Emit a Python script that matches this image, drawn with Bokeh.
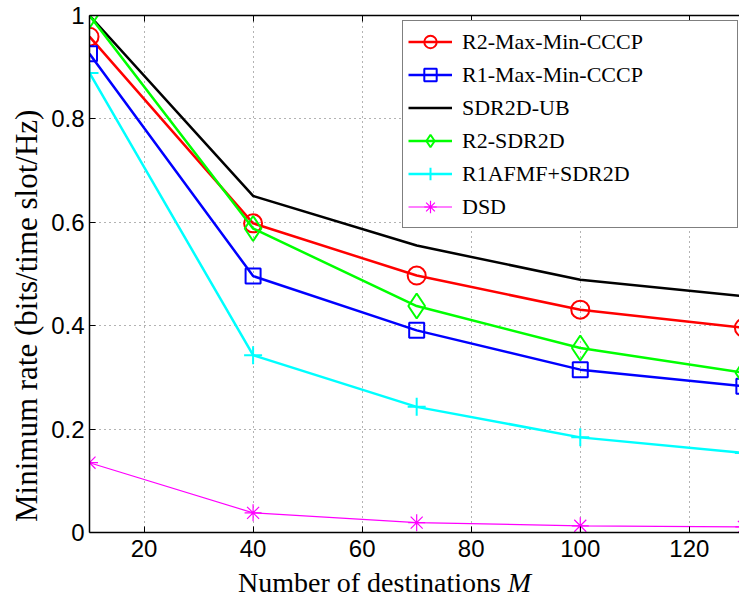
from bokeh.plotting import figure
from bokeh.models import (Range1d, LinearAxis, Legend, LegendItem, Div,
                          CustomLabelingPolicy)
from bokeh.layouts import column, row
from bokeh.embed import file_html
from bokeh.resources import INLINE

# ---------------- data ----------------
m_values = [10, 40, 70, 100, 130]
r2_max_min_cccp = [0.959, 0.598, 0.497, 0.431, 0.396]
r1_max_min_cccp = [0.926, 0.496, 0.391, 0.315, 0.283]
sdr2d_ub = [1.000, 0.651, 0.555, 0.489, 0.457]
r2_sdr2d = [1.000, 0.588, 0.438, 0.357, 0.309]
r1afmf_sdr2d = [0.889, 0.343, 0.243, 0.184, 0.154]
dsd = [0.135, 0.038, 0.019, 0.013, 0.011]

series_names = ["R2-Max-Min-CCCP", "R1-Max-Min-CCCP", "SDR2D-UB",
                "R2-SDR2D", "R1AFMF+SDR2D", "DSD"]
x_ticks = [20, 40, 60, 80, 100, 120]
x_tick_labels = ["20", "40", "60", "80", "100", "120"]
y_ticks = [0, 0.2, 0.4, 0.6, 0.8, 1]
y_tick_labels = ["0", "0.2", "0.4", "0.6", "0.8", "1"]
x_title = "Number of destinations"
x_title_var = "M"
y_title = "Minimum rate (bits/time slot/Hz)"

SANS = "Liberation Sans"
SERIF = "Liberation Serif"

# ---------------- figure ----------------
p = figure(width=691, height=567, output_backend="svg", toolbar_location=None,
           x_range=Range1d(10, 129.2), y_range=Range1d(0, 1),
           min_border_left=41, min_border_right=0, min_border_top=15,
           min_border_bottom=35)
p.outline_line_color = None
p.background_fill_color = "white"
p.border_fill_color = "white"

for ax, ticks, labels in ((p.xaxis[0], x_ticks, x_tick_labels),
                          (p.yaxis[0], y_ticks, y_tick_labels)):
    ax.ticker = ticks
    ax.major_label_overrides = {t: l for t, l in zip(ticks, labels)}
    ax.major_label_text_font = SANS
    ax.major_label_text_font_size = "24px"
    ax.major_label_text_color = "black"
    ax.axis_line_color = "black"
    ax.axis_line_width = 1.5
    ax.major_tick_in = 6
    ax.major_tick_out = 0
    ax.major_tick_line_color = "black"
    ax.major_tick_line_width = 1
    ax.minor_tick_line_color = None

p.xaxis.major_label_standoff = 7
p.yaxis.major_label_standoff = 5

# mirrored box edge on top with inward ticks and no labels
top_axis = LinearAxis(ticker=x_ticks, major_label_standoff=0,
                      major_label_policy=CustomLabelingPolicy(code="return []"),
                      major_tick_in=6, major_tick_out=0,
                      axis_line_color="black", axis_line_width=1.5,
                      major_tick_line_color="black", minor_tick_line_color=None)
p.add_layout(top_axis, "above")

for g in (p.xgrid[0], p.ygrid[0]):
    g.grid_line_color = "black"
    g.grid_line_dash = "1 4"
    g.grid_line_alpha = 0.6
    g.grid_line_width = 1

# ---------------- series ----------------
series = [
    (r2_max_min_cccp, "#ff0000", "circle", 18, 2.5),
    (r1_max_min_cccp, "#0000ff", "square", 15, 2.5),
    (sdr2d_ub, "#000000", None, 0, 2.5),
    (r2_sdr2d, "#00ff00", "diamond", 25, 2.5),
    (r1afmf_sdr2d, "#00ffff", "cross", 18, 2.5),
    (dsd, "#ff00ff", "asterisk", 17, 1.2),
]

items = []
for (vals, color, marker, size, lw), name in zip(series, series_names):
    rs = [p.line(m_values, vals, line_color=color, line_width=lw)]
    if marker is not None:
        rs.append(p.scatter(m_values, vals, marker=marker, size=size,
                            line_color=color, fill_alpha=0,
                            line_width=2 if lw > 2 else 1.2))
    items.append(LegendItem(label=name, renderers=rs))

legend = Legend(items=items, location=(313, 304),
                label_text_font=SERIF, label_text_font_size="22px",
                label_text_color="black",
                glyph_width=44, glyph_height=31, label_height=31,
                label_width=270, spacing=2, padding=5, margin=0,
                label_standoff=10,
                border_line_color="black", border_line_width=1,
                background_fill_color="white", background_fill_alpha=1)
p.add_layout(legend)

# axis titles (serif, italic variable) as page text
xlabel = Div(text=f"{x_title} <i>{x_title_var}</i>", width=501, height=31,
             margin=(0, 0, 0, 190),
             styles={"font-family": SERIF, "font-size": "28px",
                     "line-height": "31px", "color": "black",
                     "white-space": "nowrap", "background-color": "white"})

ylabel = Div(text=y_title, width=48, height=598, margin=(0, 0, 0, 0),
             styles={"font-family": SERIF, "font-size": "31px",
                     "line-height": "42px", "writing-mode": "vertical-rl",
                     "transform": "rotate(180deg)", "padding-top": "76px",
                     "padding-right": "6px", "box-sizing": "border-box",
                     "white-space": "nowrap", "color": "black",
                     "background-color": "white"})

layout = row(ylabel, column(p, xlabel, spacing=0), spacing=0)
open("out.html", "w").write(file_html(layout, INLINE))
